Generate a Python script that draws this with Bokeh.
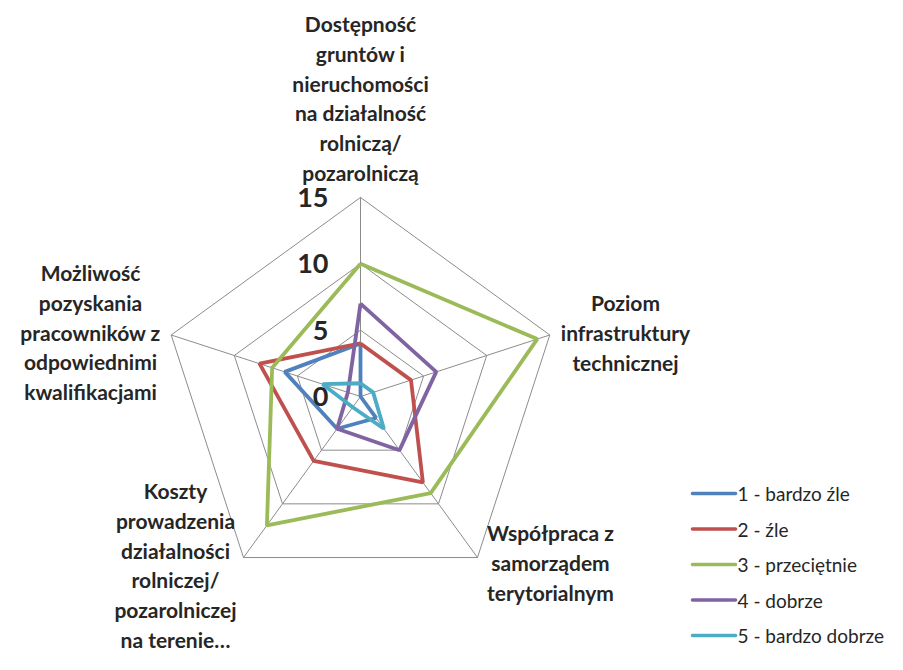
import math
from bokeh.plotting import figure
from bokeh.models import Range1d
from bokeh.embed import file_html
from bokeh.resources import INLINE
from bokeh.core.properties import value

# ---------------- data ----------------
categories = [
    ["Dostępność", "gruntów i", "nieruchomości", "na działalność", "rolniczą/", "pozarolniczą"],
    ["Poziom", "infrastruktury", "technicznej"],
    ["Współpraca z", "samorządem", "terytorialnym"],
    ["Koszty", "prowadzenia", "działalności", "rolniczej/", "pozarolniczej", "na terenie…"],
    ["Możliwość", "pozyskania", "pracowników z", "odpowiednimi", "kwalifikacjami"],
]
series_names = ["1 - bardzo źle", "2 - źle", "3 - przeciętnie", "4 - dobrze", "5 - bardzo dobrze"]
s1_bardzo_zle = [4, 0, 2, 3, 6]
s2_zle = [4, 4, 8, 6, 8]
s3_przecietnie = [10, 14, 9, 12, 7]
s4_dobrze = [7, 6, 5, 3, 1]
s5_bardzo_dobrze = [1, 1, 3, 1, 3]
tick_values = [0, 5, 10, 15]
tick_labels = ["0", "5", "10", "15"]
ring_values = [5, 10, 15]

series_values = [s1_bardzo_zle, s2_zle, s3_przecietnie, s4_dobrze, s5_bardzo_dobrze]
colors = ["#4F81BD", "#C0504D", "#9BBB59", "#8064A2", "#4BACC6"]

# ---------------- layout ----------------
W, H = 887, 654
CX, CY = 360.0, 396.0      # radar centre in pixels
S = 13.27                  # pixels per value unit

def dx(sx):
    return (sx - CX) / S

def dy(sy):
    return (CY - sy) / S

n = len(categories)
angles = [math.radians(90 - 360.0 * i / n) for i in range(n)]

p = figure(width=W, height=H, output_backend="svg", toolbar_location=None,
           x_range=Range1d(dx(0), dx(W)), y_range=Range1d(dy(H), dy(0)),
           x_axis_type=None, y_axis_type=None, min_border=0,
           outline_line_color=None, background_fill_color="white",
           border_fill_color="white")
p.grid.visible = False

GRID = "#8C8C8C"
TXT = "#262626"

# rings
for r in ring_values:
    xs = [r * math.cos(a) for a in angles] + [r * math.cos(angles[0])]
    ys = [r * math.sin(a) for a in angles] + [r * math.sin(angles[0])]
    p.line(xs, ys, line_color=GRID, line_width=1)
# spokes
rmax = max(ring_values)
p.segment(x0=[0] * n, y0=[0] * n,
          x1=[rmax * math.cos(a) for a in angles],
          y1=[rmax * math.sin(a) for a in angles],
          line_color=GRID, line_width=1)

# series
for vals, col in zip(series_values, colors):
    xs = [v * math.cos(a) for v, a in zip(vals, angles)]
    ys = [v * math.sin(a) for v, a in zip(vals, angles)]
    xs.append(xs[0]); ys.append(ys[0])
    p.line(xs, ys, line_color=col, line_width=3.8)

# tick labels along top axis
p.text(x=[dx(328)] * len(tick_values), y=tick_values, text=tick_labels,
       text_font=value("Lato"), text_font_style="bold", text_font_size="27px",
       text_color=TXT, text_align="right", text_baseline="middle")

# category labels (centre x, first line y in px)
label_pos = [(360, 23), (625, 302), (550, 532), (175, 490), (90, 272)]
LINE_H = 29.8
lx, ly, lt = [], [], []
for lines, (cx, cy) in zip(categories, label_pos):
    for k, t in enumerate(lines):
        lx.append(dx(cx)); ly.append(dy(cy + k * LINE_H)); lt.append(t)
p.text(x=lx, y=ly, text=lt, text_font=value("Lato"), text_font_style="bold",
       text_font_size="21px", text_color=TXT, text_align="center",
       text_baseline="middle")

# legend
leg_x0, leg_x1, leg_tx = 692, 735, 737
leg_y0, leg_dy = 493, 35.5
for i, (name, col) in enumerate(zip(series_names, colors)):
    yy = dy(leg_y0 + i * leg_dy)
    p.line([dx(leg_x0), dx(leg_x1)], [yy, yy], line_color=col, line_width=3.6,
           line_cap="round")
    p.text(x=[dx(leg_tx)], y=[yy], text=[name], text_font=value("Lato"),
           text_font_size="19px", text_color=TXT, text_align="left",
           text_baseline="middle")

open("out.html", "w").write(file_html(p, INLINE))
